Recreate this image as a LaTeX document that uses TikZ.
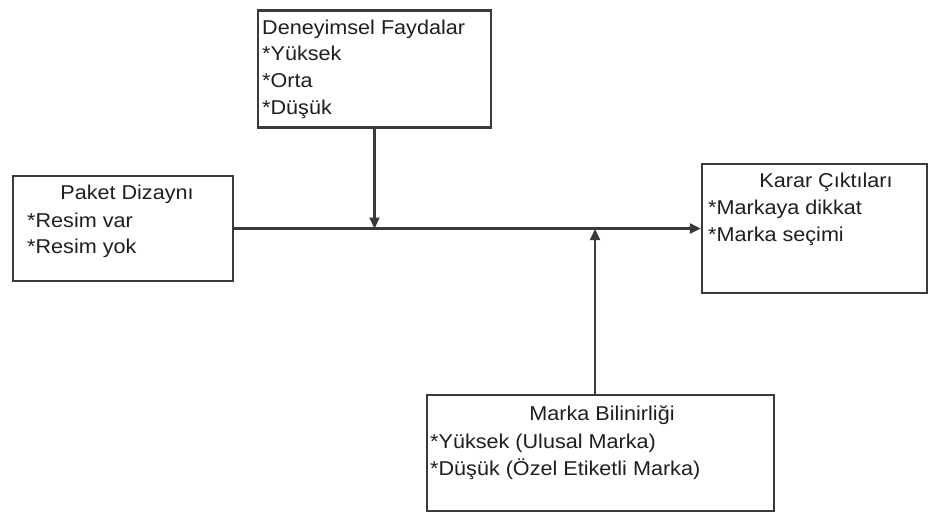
\documentclass[tikz,border=0pt]{standalone}
\usepackage{fontspec}
\setmainfont{Liberation Sans}[FakeStretch=1.08]
\usetikzlibrary{arrows.meta}
\definecolor{ink}{HTML}{1E1E1E}
\definecolor{rule}{HTML}{3A3A3A}
\begin{document}
\begin{tikzpicture}[x=1pt,y=-1pt,
  box/.style={draw=rule,line width=2.2pt,inner sep=0pt},
  txt/.style={anchor=base west,inner sep=0pt,text=ink,font=\fontsize{20}{27}\selectfont},
  ttl/.style={anchor=base,inner sep=0pt,text=ink,font=\fontsize{20}{27}\selectfont},
  link/.style={draw=rule,line width=2.2pt},
  tip/.style={-{Triangle[length=11pt,width=10pt]}}]
\useasboundingbox (0,0) rectangle (929,512);
% boxes
\node[box,minimum width=233pt,minimum height=117pt] (den) at (374.5,69) {};
\node[box,minimum width=220pt,minimum height=105pt] (pak) at (123,228.5) {};
\node[box,minimum width=225pt,minimum height=129pt] (kar) at (814.5,228.5) {};
\node[box,minimum width=347pt,minimum height=116pt] (mar) at (600.5,453) {};
% texts
\node[txt] (den1) at (262,34) {Deneyimsel Faydalar};
\node[txt] (den2) at (262,60) {*Yüksek};
\node[txt] (den3) at (262,87) {*Orta};
\node[txt] (den4) at (262,114) {*Düşük};
\node[ttl] (pak1) at (127,199) {Paket Dizaynı};
\node[txt] (pak2) at (27,227) {*Resim var};
\node[txt] (pak3) at (27,253) {*Resim yok};
\node[ttl] (kar1) at (826,187) {Karar Çıktıları};
\node[txt] (kar2) at (708,214) {*Markaya dikkat};
\node[txt] (kar3) at (708,241) {*Marka seçimi};
\node[ttl] (mar1) at (602,420) {Marka Bilinirliği};
\node[txt] (mar2) at (430,448) {*Yüksek (Ulusal Marka)};
\node[txt] (mar3) at (430,475) {*Düşük (Özel Etiketli Marka)};
% connectors
\coordinate (j1) at (den.south |- pak.east);
\coordinate (mtop) at (595,395);
\coordinate (j2) at (595,229);
\draw[link,tip] (pak.east) -- (kar.west);
\draw[link,tip] (den.south) -- (j1);
\draw[link,tip] (mtop) -- (j2);
\end{tikzpicture}
\end{document}
